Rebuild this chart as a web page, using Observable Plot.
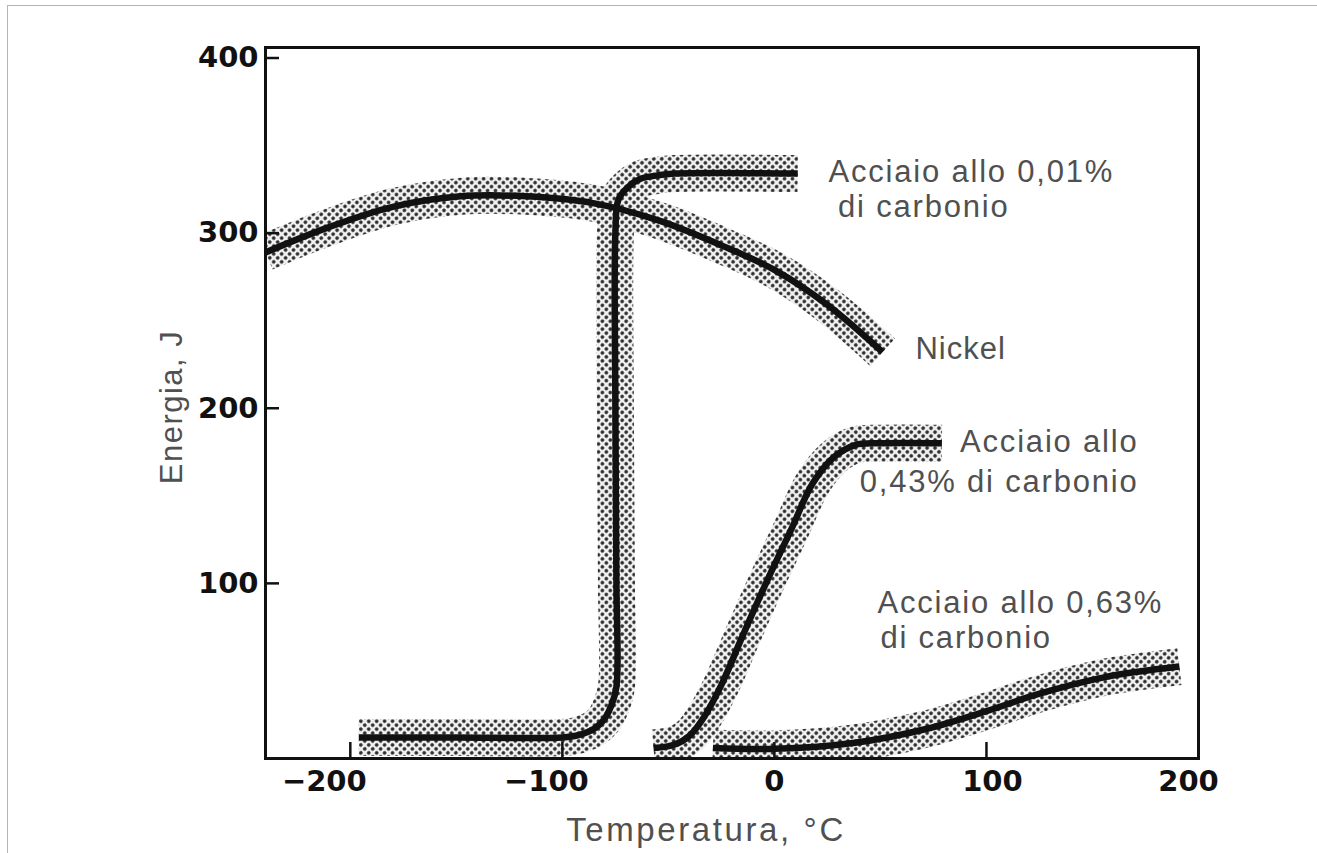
<!DOCTYPE html>
<html><head><meta charset="utf-8">
<script src="https://cdn.jsdelivr.net/npm/d3@7"></script>
<script src="https://cdn.jsdelivr.net/npm/@observablehq/plot@0.6"></script>
<style>
body{margin:0;background:#fff;}
#wrap{position:relative;width:1317px;height:853px;overflow:hidden;background:#fff;}
#border{position:absolute;left:7px;top:5px;width:1400px;height:1000px;border-top:1px solid #b5b5b5;border-left:1px solid #b5b5b5;pointer-events:none;}
#chart{position:absolute;left:0;top:0;}
</style></head><body>
<div id="wrap"><div id="chart"></div><div id="border"></div></div>
<script>
// Temperature (°C) and energy (J)
const nickelT = [-240, -211, -180, -148, -117, -85, -54, -25, 0, 25, 51];
const nickelE = [289, 303, 315, 321, 321, 317, 307, 293, 279, 259, 232];

const steel001T = [-196, -150, -100, -92, -85, -80.5, -77, -74.5, -74.5, -75, -75, -73.6, -69.3, -63.2, -55, -47, 11];
const steel001E = [12, 12, 12, 13.5, 17, 22, 30, 41, 100, 200, 300, 319, 326, 331, 333, 334, 334];

const steel043T = [-57, -47, -40, -33, -25, -15, -4, 8, 18, 28, 38, 50, 79];
const steel043E = [6, 8, 13, 24, 42, 70, 100, 131, 157, 172, 179, 180, 180];

const steel063T = [-29, 0, 38, 72, 100, 125, 156, 191];
const steel063E = [6, 5.5, 9, 17, 27, 37, 46.5, 52.5];

const xTicks = [-200, -100, 0, 100, 200];
const yTicks = [100, 200, 300, 400];

const labelsStart = [
  {T: 25.5, E: 335, text: "Acciaio allo 0,01%"},
  {T: 30, E: 315, text: "di carbonio"},
  {T: 66.5, E: 234, text: "Nickel"},
  {T: 48.6, E: 89, text: "Acciaio allo 0,63%"},
  {T: 50, E: 69, text: "di carbonio"}
];
const labelsEnd = [
  {T: 171.7, E: 180.6, text: "Acciaio allo"},
  {T: 171.7, E: 158, text: "0,43% di carbonio"}
];

const seriesList = [
  ["Nickel", nickelT, nickelE],
  ["Acciaio 0,01%", steel001T, steel001E],
  ["Acciaio 0,43%", steel043T, steel043E],
  ["Acciaio 0,63%", steel063T, steel063E]
];
const rows = seriesList.flatMap(([name, T, E]) => T.map((t, i) => ({series: name, T: t, E: E[i]})));

const textFont = {fontFamily: "Liberation Sans, Arial, sans-serif", fontSize: 31, fill: "#505050"};
const tickFont = {fontFamily: "DejaVu Sans, sans-serif", fontSize: 29, fontWeight: "bold"};
const xLabelShift = {"-200": -26, "-100": -16, "0": 0, "100": 6, "200": -10};

const chart = Plot.plot({
  width: 1317, height: 853,
  marginLeft: 265, marginRight: 119, marginTop: 47, marginBottom: 95,
  x: {domain: [-240, 200]},
  y: {domain: [0, 406]},
  style: {background: "transparent", overflow: "visible"},
  marks: [
    Plot.line(rows, {x: "T", y: "E", z: "series", stroke: "url(#halftone)", strokeWidth: 37, curve: "catmull-rom", strokeLinecap: "butt", strokeLinejoin: "round", clip: true}),
    Plot.line(rows, {x: "T", y: "E", z: "series", stroke: "#111", strokeWidth: 6.5, curve: "catmull-rom", strokeLinecap: "butt", strokeLinejoin: "round"}),
    Plot.frame({stroke: "#111", strokeWidth: 3}),
    Plot.axisY(yTicks, {anchor: "left", label: null, tickSize: -14, tickPadding: 21, strokeWidth: 2.5, color: "#111", tickFormat: d => String(d), ...tickFont}),
    Plot.axisX(xTicks, {anchor: "bottom", label: null, tickSize: -16, strokeWidth: 2.5, color: "#111", tickFormat: () => ""}),
    ...xTicks.map(d => Plot.axisX([d], {anchor: "bottom", label: null, tickSize: 0, tickPadding: 12, dx: xLabelShift[d], color: "#111", tickFormat: v => v < 0 ? "\u2212" + Math.abs(v) : String(v), ...tickFont})),
    Plot.text(labelsStart, {x: "T", y: "E", text: "text", textAnchor: "start", ...textFont}),
    Plot.text(labelsEnd, {x: "T", y: "E", text: "text", textAnchor: "end", ...textFont}),
    Plot.text(["Temperatura, °C"], {frameAnchor: "bottom", textAnchor: "middle", lineAnchor: "middle", dy: 72, dx: -26, ...textFont, fontSize: 33}),
    Plot.text(["Energia, J"], {frameAnchor: "left", textAnchor: "middle", lineAnchor: "middle", dx: -93, dy: 4, rotate: -90, ...textFont})
  ]
});

const svg = d3.select(chart);
const defs = svg.insert("defs", ":first-child");
const pat = defs.append("pattern")
  .attr("id", "halftone").attr("width", 5.6).attr("height", 5.6)
  .attr("patternUnits", "userSpaceOnUse").attr("patternTransform", "rotate(45)");
pat.append("rect").attr("width", 5.6).attr("height", 5.6).attr("fill", "#f2f2f2");
pat.append("circle").attr("cx", 2.8).attr("cy", 2.8).attr("r", 1.8).attr("fill", "#2a2a2a");

// letter spacing of the annotation texts, like the scanned lettering
svg.selectAll('g[aria-label="text"] text').each(function() {
  const t = this.textContent;
  let ls = 1.8;
  if (t.startsWith("Temperatura")) ls = 2.6;
  else if (t.startsWith("Energia")) ls = 1.5;
  else if (t === "Nickel") ls = 1;
  this.setAttribute("letter-spacing", ls + "px");
});

document.getElementById("chart").appendChild(chart);
</script>
</body></html>
